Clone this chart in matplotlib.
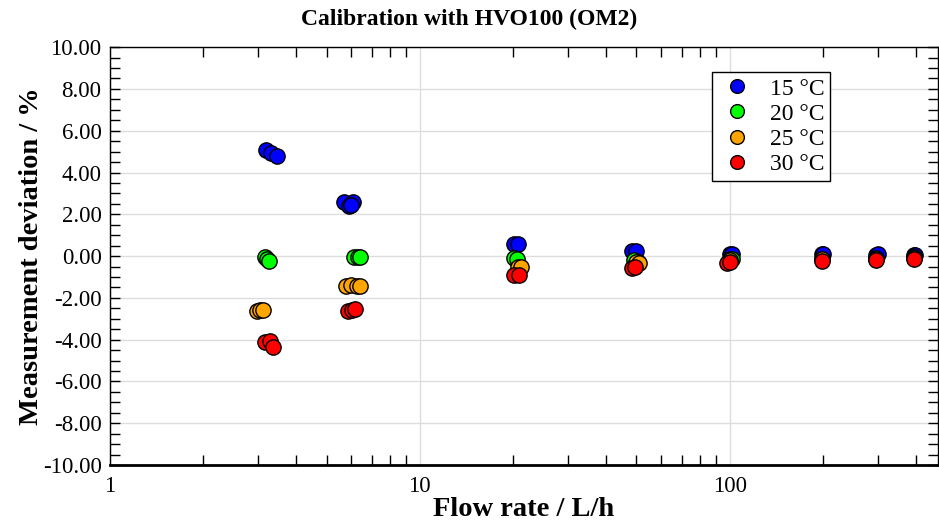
import matplotlib

matplotlib.use("Agg")
import matplotlib.pyplot as plt
from matplotlib.ticker import FixedLocator, FormatStrFormatter, MultipleLocator, NullFormatter

plt.rcParams["font.family"] = ["Liberation Serif", "DejaVu Serif"]
plt.rcParams["axes.unicode_minus"] = False

# 数据：流量 (L/h) 与测量偏差 (%)，按温度分组
flow_15 = [3.2, 3.3, 3.45, 5.7, 5.9, 6.1, 6.0, 20.1, 20.8, 48.5, 50.0, 100.0, 102.0, 198.0, 200.0, 296.0, 300.0, 392.0, 396.0]
dev_15 = [5.1, 4.95, 4.8, 2.6, 2.4, 2.6, 2.45, 0.6, 0.6, 0.25, 0.25, 0.1, 0.12, 0.1, 0.12, 0.06, 0.08, 0.05, 0.07]

flow_20 = [3.16, 3.22, 3.26, 6.15, 6.3, 6.4, 20.2, 20.6, 49.0, 50.5, 100.0, 102.0, 198.0, 296.0, 392.0]
dev_20 = [-0.05, -0.12, -0.25, -0.05, -0.05, -0.05, -0.1, -0.12, -0.2, -0.28, -0.12, -0.15, -0.12, -0.08, -0.05]

flow_25 = [2.98, 3.05, 3.12, 5.8, 6.0, 6.25, 6.4, 20.8, 21.2, 49.9, 51.0, 100.0, 198.0, 296.0, 392.0]
dev_25 = [-2.63, -2.6, -2.6, -1.44, -1.4, -1.44, -1.44, -0.53, -0.5, -0.3, -0.35, -0.2, -0.15, -0.12, -0.08]

flow_30 = [3.16, 3.28, 3.36, 5.85, 6.05, 6.2, 20.1, 20.9, 48.3, 49.5, 98.0, 100.0, 198.0, 296.0, 392.0]
dev_30 = [-4.1, -4.05, -4.35, -2.63, -2.58, -2.55, -0.9, -0.9, -0.57, -0.5, -0.33, -0.3, -0.24, -0.2, -0.12]

series = [
    ("15 °C", flow_15, dev_15, "#0000ff"),
    ("20 °C", flow_20, dev_20, "#00ff00"),
    ("25 °C", flow_25, dev_25, "#ffa500"),
    ("30 °C", flow_30, dev_30, "#ff0000"),
]

fig = plt.figure(figsize=(9.39, 5.24), dpi=100)
ax = fig.add_axes([0.117, 0.1126, 0.882, 0.7974])

for label, x, y, color in series:
    ax.plot(x, y, "o", ms=11, mfc=color, mec="black", mew=1.0, ls="none", label=label, zorder=3)

ax.set_xscale("log")
ax.set_xlim(1, 470)
ax.set_ylim(-10, 10)

ax.xaxis.set_major_locator(FixedLocator([1, 10, 100]))
ax.xaxis.set_major_formatter(FormatStrFormatter("%g"))
ax.xaxis.set_minor_locator(FixedLocator([2, 3, 4, 5, 6, 7, 8, 9, 20, 30, 40, 50, 60, 70, 80, 90, 200, 300, 400]))
ax.xaxis.set_minor_formatter(NullFormatter())
ax.yaxis.set_major_locator(MultipleLocator(2))
ax.yaxis.set_minor_locator(MultipleLocator(0.5))
ax.yaxis.set_major_formatter(FormatStrFormatter("%.2f"))

ax.tick_params(which="both", direction="in", top=True, right=True, labelsize=16.5, pad=6)
ax.tick_params(which="major", length=7, width=1)
ax.tick_params(which="minor", length=7, width=1)
ax.tick_params(axis="x", which="major", length=0, pad=8)

ax.grid(True, which="major", color="#dddddd", lw=1, zorder=0)
ax.set_axisbelow(True)

ax.spines["bottom"].set_linewidth(2)
for s in ("left", "top", "right"):
    ax.spines[s].set_linewidth(1)

fig.text(0.5, 0.963, "Calibration with HVO100 (OM2)", ha="center", va="center",
         fontsize=17, fontweight="bold", family="Liberation Serif")
ax.set_xlabel("Flow rate / L/h", fontsize=20.5, fontweight="bold", labelpad=0)
ax.set_ylabel("Measurement deviation / %", fontsize=20.5, fontweight="bold", labelpad=-1)

leg = ax.legend(
    loc="upper left",
    bbox_to_anchor=(0.727, 0.94),
    fontsize=17,
    frameon=True,
    fancybox=False,
    edgecolor="black",
    framealpha=1,
    handletextpad=0.6,
    handlelength=1.6,
    borderpad=0.25,
    borderaxespad=0,
    labelspacing=0.15,
    markerscale=0.9,
)
leg.get_frame().set_linewidth(1)

fig.savefig("out.png", dpi=100)
